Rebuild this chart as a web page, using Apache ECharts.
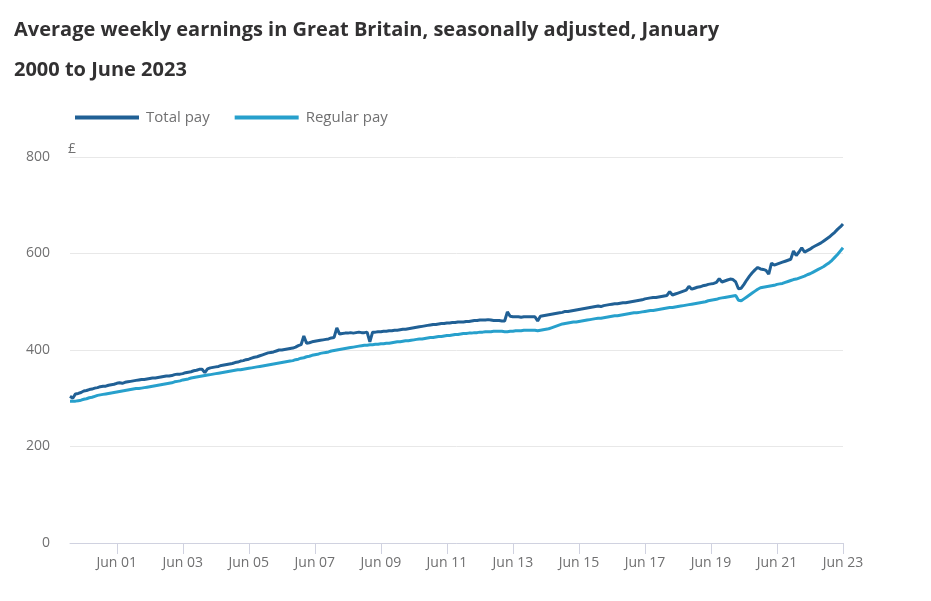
<!DOCTYPE html>
<html>
<head>
<meta charset="utf-8">
<script src="https://cdn.jsdelivr.net/npm/echarts@6/dist/echarts.min.js"></script>
<style>
html,body{margin:0;padding:0;background:#fff;}
#chart{width:931px;height:601px;}
</style>
</head>
<body>
<div id="chart"></div>
<script>
// Monthly categories Jan 2000 .. Jun 2023
const monthNames = ['Jan','Feb','Mar','Apr','May','Jun','Jul','Aug','Sep','Oct','Nov','Dec'];
const years = ['00','01','02','03','04','05','06','07','08','09','10','11','12','13','14','15','16','17','18','19','20','21','22','23'];

// Total pay (£ per week), one row per year
const totalPay = [
  304,300,309,310,312,315,316,318,319,321,322,324,
  325,325,327,328,329,331,332,331,333,334,335,336,
  337,338,339,339,340,341,342,342,343,344,345,346,
  346,347,349,350,350,351,353,354,355,357,358,360,
  360,353,361,363,364,365,366,368,369,370,371,372,
  374,375,377,378,380,381,383,385,386,388,390,392,
  394,395,396,398,400,400,401,402,403,404,406,409,
  411,429,414,415,417,418,419,420,421,422,423,425,
  426,446,433,434,435,435,436,435,436,437,436,436,
  437,417,437,437,438,438,439,439,440,440,441,441,
  442,443,443,444,445,446,447,448,449,450,451,452,
  453,453,454,455,455,456,456,457,457,458,458,458,
  459,459,460,461,461,462,462,462,463,462,461,461,
  461,460,460,479,470,469,469,469,468,469,469,469,
  469,469,460,470,471,472,473,474,475,476,477,478,
  480,480,481,482,483,484,485,486,487,488,489,490,
  491,490,492,493,494,495,496,496,497,498,498,499,
  500,501,502,503,504,506,507,508,509,509,510,511,
  512,513,521,514,516,518,520,522,524,532,526,528,
  530,531,533,534,536,537,538,540,548,541,543,545,
  547,546,541,527,528,536,545,553,560,566,571,568,
  567,565,557,580,576,578,580,582,584,586,588,605,
  596,603,612,603,606,609,613,616,619,622,626,630,
  634,639,644,650,655,661
];

// Regular pay (£ per week)
const regularPay = [
  294,294,294,295,296,298,299,301,302,304,306,307,
  308,309,310,311,312,313,314,315,316,317,318,319,
  320,320,321,322,323,324,325,326,327,328,329,330,
  331,332,334,335,336,338,339,340,342,343,344,345,
  346,347,348,349,350,351,352,353,354,355,356,357,
  358,359,359,360,361,362,363,364,365,366,367,368,
  369,370,371,372,373,374,375,376,377,378,380,381,
  383,384,386,387,389,390,391,393,394,395,396,398,
  399,400,401,402,403,404,405,406,407,408,409,410,
  410,411,411,412,412,413,413,414,414,415,416,417,
  417,418,419,419,420,421,422,423,423,424,425,426,
  426,427,428,428,429,430,430,431,432,432,433,434,
  434,435,435,436,436,437,437,438,438,438,439,439,
  439,439,438,438,439,439,440,440,440,441,441,441,
  441,441,440,441,442,443,444,446,448,450,452,454,
  455,456,457,458,458,459,460,461,462,463,464,465,
  466,466,467,468,469,470,471,471,472,473,474,475,
  476,477,477,478,479,480,481,482,482,483,484,485,
  486,487,488,488,489,490,491,492,493,494,495,496,
  497,498,499,500,502,503,504,505,507,508,509,510,
  511,512,513,503,502,506,510,514,518,522,526,529,
  530,531,532,533,534,536,537,538,540,542,544,546,
  547,549,551,553,556,558,561,564,567,570,573,577,
  581,586,592,598,605,612
];

const seriesNames = ['Total pay','Regular pay'];
const yTicks = [0,200,400,600,800];

const categories = [];
for (let y = 0; y < years.length; y++) {
  for (let m = 0; m < 12; m++) {
    if (categories.length < totalPay.length) categories.push(monthNames[m] + ' ' + years[y]);
  }
}

const showIdx = (i) => i % 24 === 17;
const font = '"Open Sans", "Noto Sans", sans-serif';

const chart = echarts.init(document.getElementById('chart'), null, {renderer: 'canvas'});
chart.setOption({
  animation: false,
  backgroundColor: '#ffffff',
  title: {
    text: 'Average weekly earnings in Great Britain, seasonally adjusted, January\n2000 to June 2023',
    left: 14,
    top: 10,
    padding: 0,
    textStyle: {fontFamily: font, fontSize: 20, fontWeight: 'bold', color: '#323132', lineHeight: 40}
  },
  legend: {
    left: 75,
    top: 110,
    padding: 0,
    itemWidth: 64,
    itemHeight: 4,
    itemGap: 25,
    icon: 'rect',
    textStyle: {fontFamily: font, fontSize: 15, color: '#707071', padding: [0,0,0,2]},
    data: seriesNames
  },
  grid: {left: 70, right: 88, top: 157, bottom: 58},
  xAxis: {
    type: 'category',
    data: categories,
    boundaryGap: false,
    axisLine: {lineStyle: {color: '#d0d2e0', width: 1}},
    axisTick: {show: true, length: 11, interval: (i) => showIdx(i), lineStyle: {color: '#d0d2e0'}},
    axisLabel: {
      interval: (i) => showIdx(i),
      margin: 13,
      fontFamily: font, fontSize: 14, color: '#707071',
      formatter: (v) => v
    },
    splitLine: {show: false}
  },
  yAxis: {
    type: 'value',
    min: yTicks[0],
    max: yTicks[yTicks.length - 1],
    interval: 200,
    name: '£',
    nameLocation: 'end',
    nameGap: 1,
    nameTextStyle: {fontFamily: font, fontSize: 14, color: '#707071', align: 'left', padding: [0,0,0,-2]},
    axisLine: {show: false},
    axisTick: {show: false},
    axisLabel: {margin: 20, fontFamily: font, fontSize: 14, color: '#707071'},
    splitLine: {lineStyle: {color: '#e8e8e8', width: 1}}
  },
  series: [
    {
      name: seriesNames[0],
      type: 'line',
      data: totalPay,
      showSymbol: false,
      symbol: 'none',
      lineStyle: {color: '#206095', width: 3},
      itemStyle: {color: '#206095'},
      z: 3
    },
    {
      name: seriesNames[1],
      type: 'line',
      data: regularPay,
      showSymbol: false,
      symbol: 'none',
      lineStyle: {color: '#27a0cc', width: 3},
      itemStyle: {color: '#27a0cc'},
      z: 2
    }
  ]
});
</script>
</body>
</html>
